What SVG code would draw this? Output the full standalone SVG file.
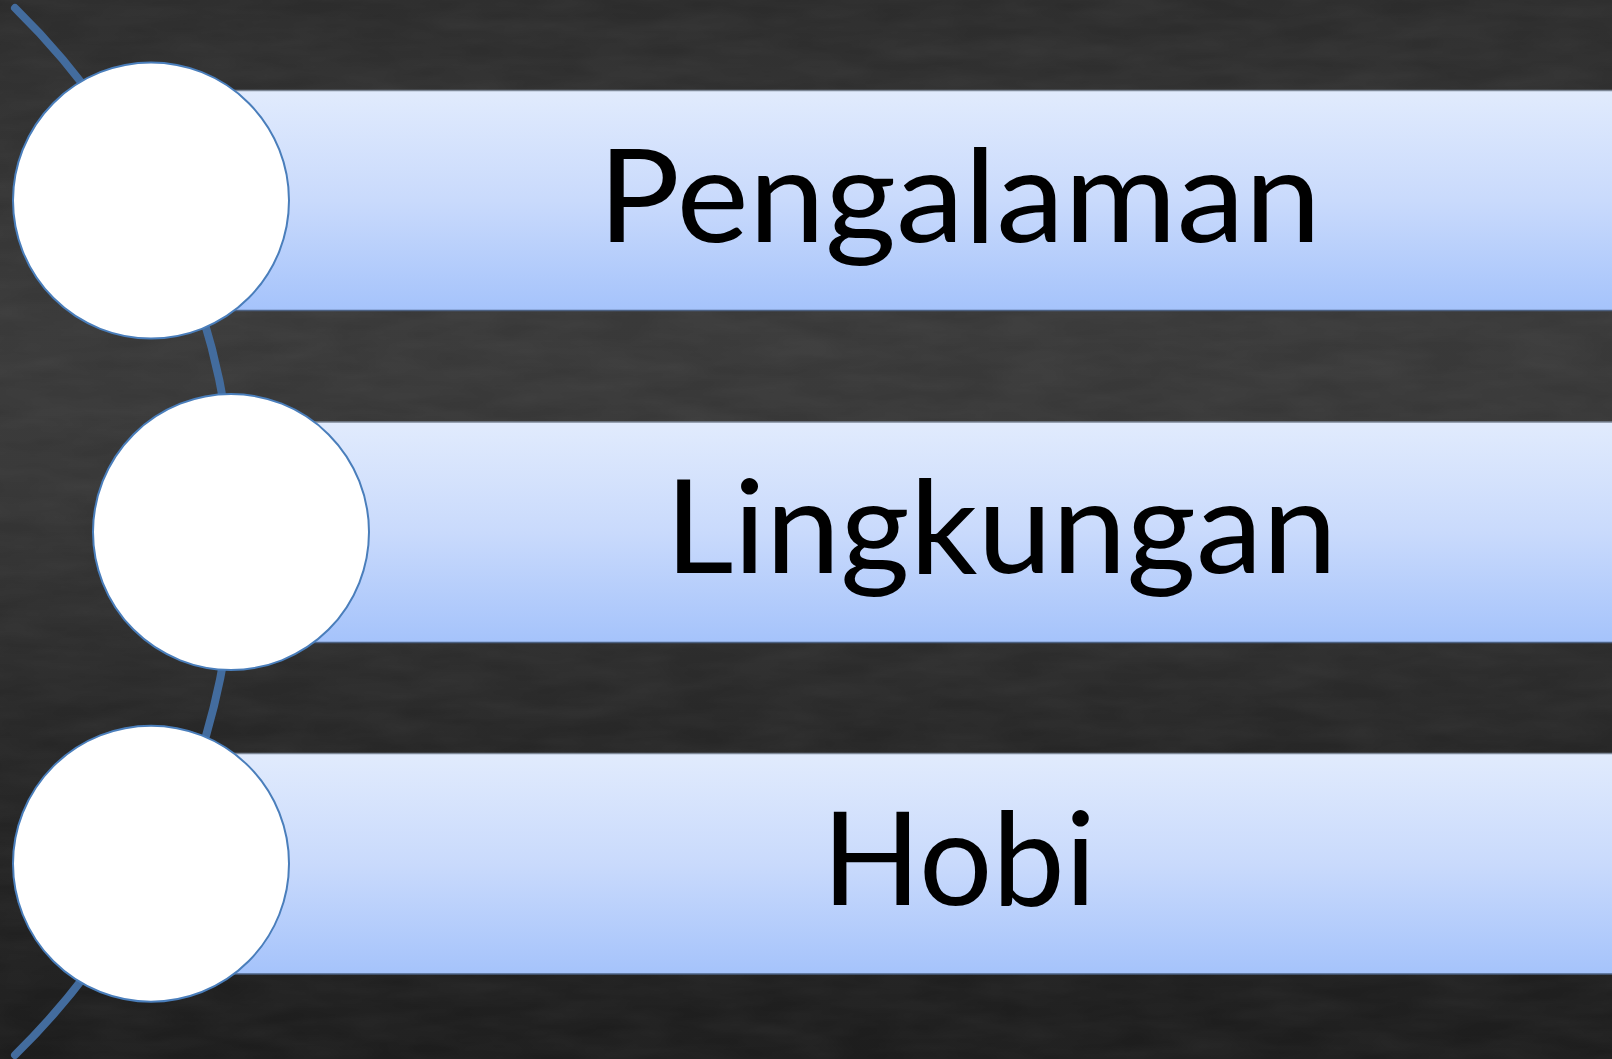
<svg xmlns="http://www.w3.org/2000/svg" width="1612" height="1059" viewBox="0 0 1612 1059">
  <defs>
    <linearGradient id="bg" x1="0" y1="0" x2="0" y2="1">
      <stop offset="0" stop-color="#2c2c2c"/>
      <stop offset="0.3" stop-color="#393939"/>
      <stop offset="0.45" stop-color="#373737"/>
      <stop offset="0.7" stop-color="#272727"/>
      <stop offset="1" stop-color="#1d1d1d"/>
    </linearGradient>
    <linearGradient id="bar" x1="0" y1="0" x2="0" y2="1">
      <stop offset="0" stop-color="#e1ebfd"/>
      <stop offset="0.5" stop-color="#c9dafc"/>
      <stop offset="1" stop-color="#a5c3fb"/>
    </linearGradient>
    <filter id="noise" x="0" y="0" width="100%" height="100%">
      <feTurbulence type="fractalNoise" baseFrequency="0.012 0.05" numOctaves="3" seed="7" result="n"/>
      <feColorMatrix type="matrix" values="0 0 0 0 1  0 0 0 0 1  0 0 0 0 1  0 0 0 0.06 -0.015"/>
    </filter>
    <style>
      .bar { fill: url(#bar); }
      .edgeTop { stroke: #7d8796; stroke-width: 1.5; }
      .edgeBot { stroke: #4d6283; stroke-width: 1.5; }
      .circ { fill: #ffffff; stroke: #4a7ebb; stroke-width: 2; }
      .lbl { font-family: "Lato", "Open Sans", "Liberation Sans", sans-serif; font-size: 130px; fill: #000000; }
      .arc { fill: none; stroke: #436c9e; stroke-width: 8; stroke-linecap: round; }
    </style>
  </defs>

  <rect x="0" y="0" width="1612" height="1059" fill="url(#bg)"/>
  <rect x="0" y="0" width="1612" height="1059" filter="url(#noise)"/>

  <g id="connectors">
    <path class="arc" d="M 15 8 A 733 733 0 0 1 15 1055"/>
  </g>

  <g id="node1">
    <rect class="bar" x="151" y="90.5" width="1461" height="220"/>
    <line class="edgeTop" x1="151" y1="90.5" x2="1612" y2="90.5"/>
    <line class="edgeBot" x1="151" y1="310.5" x2="1612" y2="310.5"/>
    <circle class="circ" cx="151" cy="200.5" r="138"/>
    <text class="lbl" x="598" y="241.7" textLength="723" lengthAdjust="spacingAndGlyphs">Pengalaman</text>
  </g>

  <g id="node2">
    <rect class="bar" x="231" y="422" width="1381" height="220.5"/>
    <line class="edgeTop" x1="231" y1="422" x2="1612" y2="422"/>
    <line class="edgeBot" x1="231" y1="642.5" x2="1612" y2="642.5"/>
    <circle class="circ" cx="231" cy="532" r="138"/>
    <text class="lbl" x="665" y="573" textLength="672" lengthAdjust="spacingAndGlyphs">Lingkungan</text>
  </g>

  <g id="node3">
    <rect class="bar" x="151" y="753.5" width="1461" height="220.5"/>
    <line class="edgeTop" x1="151" y1="753.5" x2="1612" y2="753.5"/>
    <line class="edgeBot" x1="151" y1="974" x2="1612" y2="974"/>
    <circle class="circ" cx="151" cy="863.7" r="138"/>
    <text class="lbl" x="822" y="904.7" textLength="274" lengthAdjust="spacingAndGlyphs">Hobi</text>
  </g>
</svg>
